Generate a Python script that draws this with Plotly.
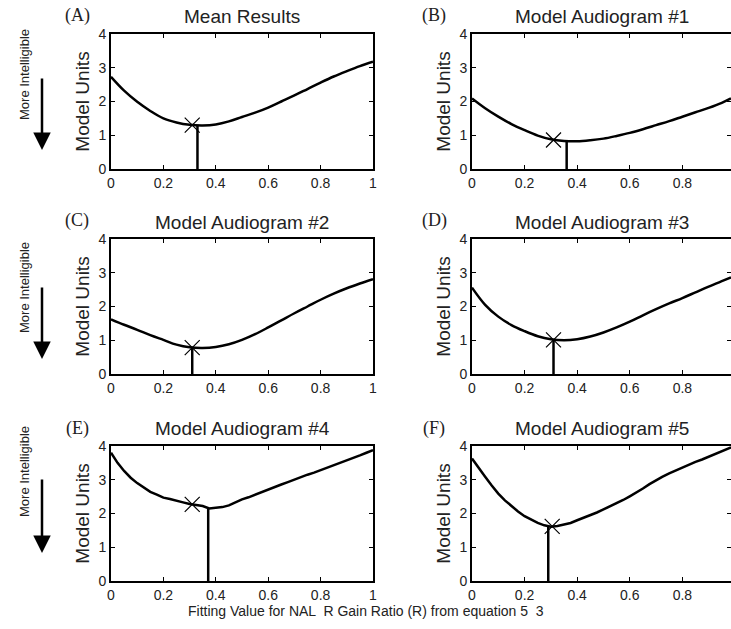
import plotly.graph_objects as go

W, H = 731, 629

# ---------------- data ----------------
x_smooth = [0, .05, .1, .15, .2, .25, .3, .35, .4, .45, .5, .55, .6, .65, .7, .75, .8, .85, .9, .95, 1.0]
x_smooth_r = [0, .05, .1, .15, .2, .25, .3, .35, .4, .45, .5, .55, .6, .65, .7, .75, .8, .85, .9, .95, 0.985]

a_vals = [2.73, 2.32, 1.99, 1.72, 1.50, 1.38, 1.31, 1.29, 1.32, 1.41, 1.54, 1.67, 1.82, 2.00, 2.18, 2.37, 2.56, 2.74, 2.90, 3.05, 3.18]
b_vals = [2.09, 1.80, 1.55, 1.33, 1.15, 0.99, 0.88, 0.83, 0.82, 0.85, 0.90, 0.98, 1.07, 1.18, 1.30, 1.42, 1.55, 1.68, 1.81, 1.96, 2.09]
c_vals = [1.62, 1.46, 1.31, 1.15, 1.01, 0.87, 0.79, 0.77, 0.80, 0.88, 1.01, 1.18, 1.38, 1.59, 1.80, 2.00, 2.20, 2.38, 2.54, 2.68, 2.81]
d_vals = [2.56, 2.05, 1.70, 1.45, 1.27, 1.12, 1.03, 1.00, 1.03, 1.11, 1.23, 1.38, 1.55, 1.74, 1.92, 2.09, 2.25, 2.42, 2.59, 2.75, 2.86]

x_fine = [0, .025, .05, .075, .1, .125, .15, .175, .2, .225, .25, .275, .3, .325, .35, .375, .4, .425, .45, .475,
          .5, .525, .55, .575, .6, .625, .65, .675, .7, .725, .75, .775, .8, .825, .85, .875, .9, .925, .95, .975, 1.0]
x_fine_r = x_fine[:-1] + [0.985]

e_vals = [3.80, 3.50, 3.26, 3.06, 2.90, 2.76, 2.64, 2.56, 2.47, 2.43, 2.37, 2.33, 2.28, 2.26, 2.22, 2.15, 2.17, 2.19, 2.24, 2.33,
          2.42, 2.48, 2.56, 2.63, 2.71, 2.78, 2.86, 2.93, 3.01, 3.07, 3.15, 3.21, 3.28, 3.35, 3.42, 3.49, 3.56, 3.63, 3.72, 3.80, 3.88]
f_vals = [3.63, 3.35, 3.09, 2.83, 2.59, 2.39, 2.22, 2.06, 1.92, 1.81, 1.72, 1.65, 1.61, 1.63, 1.67, 1.72, 1.80, 1.87, 1.95, 2.03,
          2.12, 2.21, 2.30, 2.40, 2.51, 2.62, 2.74, 2.87, 2.99, 3.09, 3.19, 3.28, 3.37, 3.45, 3.53, 3.60, 3.68, 3.75, 3.83, 3.91, 3.96]

titles = ["Mean Results", "Model Audiogram #1", "Model Audiogram #2",
          "Model Audiogram #3", "Model Audiogram #4", "Model Audiogram #5"]
labels = ["(A)", "(B)", "(C)", "(D)", "(E)", "(F)"]

# X marker (x, y) and vertical line (x, top)
marker_x = [0.31, 0.31, 0.31, 0.31, 0.31, 0.305]
marker_y = [1.30, 0.86, 0.78, 1.01, 2.27, 1.62]
vline_x = [0.33, 0.36, 0.31, 0.31, 0.371, 0.29]
vline_top = [1.29, 0.82, 0.78, 1.01, 2.15, 1.60]

y_ticks = [0, 1, 2, 3, 4]
x_ticks = [0, 0.2, 0.4, 0.6, 0.8, 1]

series = [(x_smooth, a_vals, 'spline'), (x_smooth_r, b_vals, 'spline'),
          (x_smooth, c_vals, 'spline'), (x_smooth_r, d_vals, 'spline'),
          (x_fine, e_vals, 'linear'), (x_fine_r, f_vals, 'linear')]
x_ranges = [[0, 1], [0, 0.985], [0, 1], [0, 0.985], [0, 1], [0, 0.985]]

# ---------------- layout geometry (pixels) ----------------
col_px = [(111, 373), (472, 731)]
row_px = [(34, 169), (239, 374), (446, 581)]
label_dx = [34, 38]
title_dy = [17, 16, 18]
label_dy = [19, 19, 18]

def px_x(p):
    return p / W

def px_y(p):
    return 1 - p / H

TXT = "#222222"
SANS = "Liberation Sans, Arial, sans-serif"
SERIF = "Liberation Serif, Times New Roman, serif"

fig = go.Figure()
layout = dict(width=W, height=H, margin=dict(l=0, r=0, t=0, b=0, autoexpand=False),
              plot_bgcolor="white", paper_bgcolor="white", showlegend=False,
              font=dict(family=SANS, color=TXT, size=14))
annotations = []

for i in range(6):
    r, c = divmod(i, 2)
    n = i + 1
    xa = "xaxis" if n == 1 else f"xaxis{n}"
    ya = "yaxis" if n == 1 else f"yaxis{n}"
    xr = "x" if n == 1 else f"x{n}"
    yr = "y" if n == 1 else f"y{n}"
    x0, x1 = col_px[c]
    y0, y1 = row_px[r]
    layout[xa] = dict(domain=[max(0, px_x(x0)), min(1, px_x(x1))], range=x_ranges[i], anchor=yr, automargin=False,
                      tickvals=x_ticks, ticktext=["0", "0.2", "0.4", "0.6", "0.8", "1"],
                      ticks="inside", ticklen=4, tickwidth=1, tickcolor="black",
                      showline=True, linecolor="black", linewidth=2, mirror="ticks",
                      showgrid=False, zeroline=False, tickfont=dict(size=14, color=TXT))
    layout[ya] = dict(domain=[px_y(y1), px_y(y0)], range=[0, 4], anchor=xr, automargin=False,
                      tickvals=y_ticks, ticks="inside", ticklen=4, tickwidth=1, tickcolor="black",
                      showline=True, linecolor="black", linewidth=2, mirror="ticks",
                      showgrid=False, zeroline=False, tickfont=dict(size=14, color=TXT),
                      title=dict(text="Model Units", font=dict(size=19, color=TXT), standoff=4))
    xs, ys, shp = series[i]
    fig.add_trace(go.Scatter(x=xs, y=ys, mode="lines", line=dict(color="black", width=2.5, shape=shp),
                             xaxis=xr, yaxis=yr, hoverinfo="skip"))
    fig.add_trace(go.Scatter(x=[vline_x[i], vline_x[i]], y=[0, vline_top[i]], mode="lines",
                             line=dict(color="black", width=2.5), xaxis=xr, yaxis=yr, hoverinfo="skip"))
    fig.add_trace(go.Scatter(x=[marker_x[i]], y=[marker_y[i]], mode="markers",
                             marker=dict(symbol="x-thin", size=15, line=dict(color="black", width=1.2)),
                             xaxis=xr, yaxis=yr, hoverinfo="skip"))
    # title
    annotations.append(dict(text=titles[i], x=px_x((x0 + x1) / 2), y=px_y(y0 - title_dy[r]), xref="paper", yref="paper",
                            showarrow=False, xanchor="center", yanchor="middle",
                            font=dict(size=19, color=TXT)))
    # panel label
    annotations.append(dict(text=labels[i], x=px_x(x0 - label_dx[c]), y=px_y(y0 - label_dy[r]), xref="paper", yref="paper",
                            showarrow=False, xanchor="center", yanchor="middle",
                            font=dict(family=SERIF, size=18, color=TXT)))

# "More Intelligible" labels and arrows (left column)
intel_text_y = [75, 288, 472]
arrow_tail = [77, 286, 478]
arrow_head = [150, 359, 553]
for k in range(3):
    annotations.append(dict(text="More Intelligible", x=px_x(24), y=px_y(intel_text_y[k]), xref="paper", yref="paper",
                            showarrow=False, textangle=-90, xanchor="center", yanchor="middle",
                            font=dict(size=13, color=TXT)))
    annotations.append(dict(text="", x=px_x(42), y=px_y(arrow_head[k]), xref="paper", yref="paper",
                            ax=0, ay=-(arrow_head[k] - arrow_tail[k]), axref="pixel", ayref="pixel",
                            showarrow=True, arrowhead=2, arrowsize=1.4, arrowwidth=2.5, arrowcolor="black"))

annotations.append(dict(text="Fitting Value for NAL  R Gain Ratio (R) from equation 5  3",
                        x=px_x(366), y=px_y(611), xref="paper", yref="paper", showarrow=False,
                        xanchor="center", yanchor="middle", font=dict(size=14, color=TXT)))

layout["annotations"] = annotations
fig.update_layout(**layout)
# remove the browser's default 8px body margin so the figure fills the window exactly
fig.write_html("out.html", config={"displayModeBar": False, "staticPlot": True},
               post_script="document.body.style.margin='0px';")
